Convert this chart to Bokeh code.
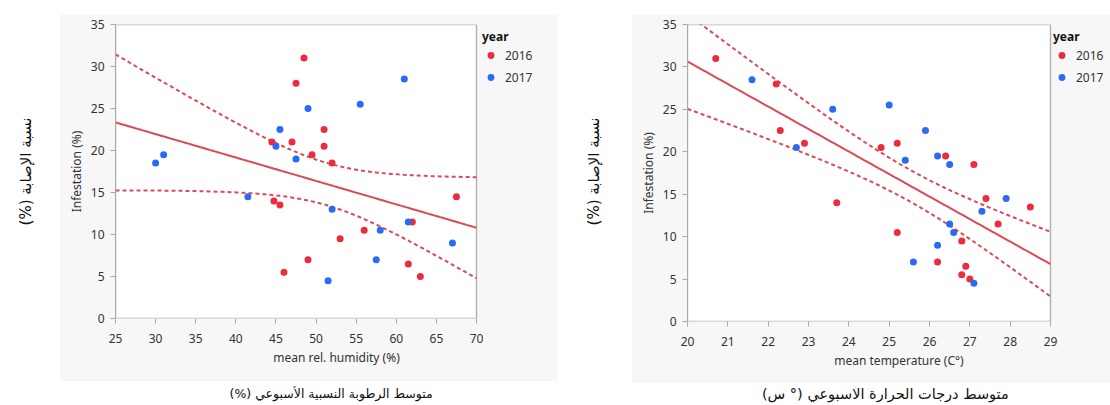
import numpy as np
from bokeh.plotting import figure
from bokeh.layouts import row, column
from bokeh.models import Spacer, Legend, LegendItem, FixedTicker, Title
from bokeh.core.properties import value
from bokeh.embed import file_html
from bokeh.resources import INLINE

# ---------------- data ----------------
inf16 = [31, 28, 22.5, 21, 21, 20.5, 19.5, 18.5, 14.5, 14, 13.5, 11.5, 10.5, 9.5, 7, 6.5, 5.5, 5]
hum16 = [48.5, 47.5, 51, 44.5, 47, 51, 49.5, 52, 67.5, 44.75, 45.5, 62, 56, 53, 49, 61.5, 46, 63]
temp16 = [20.7, 22.2, 22.3, 22.9, 25.2, 24.8, 26.4, 27.1, 27.4, 23.7, 28.5, 27.7, 25.2, 26.8, 26.2, 26.9, 26.8, 27.0]

inf17 = [28.5, 25.5, 25, 22.5, 20.5, 19.5, 19, 18.5, 14.5, 13, 11.5, 10.5, 9, 7, 4.5]
hum17 = [61, 55.5, 49, 45.5, 45, 31, 47.5, 30, 41.5, 52, 61.5, 58, 67, 57.5, 51.5]
temp17 = [21.6, 25.0, 23.6, 25.9, 22.7, 26.2, 25.4, 26.5, 27.9, 27.3, 26.5, 26.6, 26.2, 25.6, 27.1]

years = ["2016", "2017"]
hum_ticks = [25, 30, 35, 40, 45, 50, 55, 60, 65, 70]
temp_ticks = [20, 21, 22, 23, 24, 25, 26, 27, 28, 29]
inf_ticks = [0, 5, 10, 15, 20, 25, 30, 35]

RLM = "\u200f"
ar_ylabel = "نسبة الإصابة (%)" + RLM
ar_xlabel_hum = "متوسط الرطوبة النسبية الأسبوعي (%)" + RLM
ar_xlabel_temp = "متوسط درجات الحرارة الاسبوعي (° س)" + RLM

RED = "#ee2b3b"
BLUE = "#2b6af5"
FIT = "#d8404e"
PANEL = "#f7f7f7"
BOX = "#b4b4b4"
FONT = "Noto Sans"
AR_FONT = "DejaVu Sans"
T_CRIT = 2.0395  # t(0.975, 31)


def fit_band(x, y, xr):
    x = np.asarray(x, float)
    y = np.asarray(y, float)
    n = len(x)
    b, a = np.polyfit(x, y, 1)
    res = y - (a + b * x)
    s = np.sqrt(np.sum(res ** 2) / (n - 2))
    sxx = np.sum((x - x.mean()) ** 2)
    xs = np.linspace(xr[0], xr[1], 120)
    yh = a + b * xs
    hw = T_CRIT * s * np.sqrt(1.0 / n + (xs - x.mean()) ** 2 / sxx)
    return xs, yh, yh - hw, yh + hw


def panel(xs16, xs17, xticks, xlabel, w, h, bl, bt, bb, data_w, leg_x, leg_y):
    # frame spans to the right edge of the panel; the data box is data_w px wide
    x0, x1 = xticks[0], xticks[-1]
    fw = w - bl
    x_end = x0 + (x1 - x0) * fw / data_w
    p = figure(width=w, height=h, x_range=(x0, x_end), y_range=(0, 35),
               toolbar_location=None, output_backend="svg",
               min_border_left=bl, min_border_right=0,
               min_border_top=bt, min_border_bottom=bb)
    p.background_fill_color = PANEL
    p.border_fill_color = PANEL
    p.outline_line_color = None
    p.grid.visible = False
    p.quad(left=[x0], right=[x1], bottom=[inf_ticks[0]], top=[inf_ticks[-1]],
           fill_color="white", line_color=BOX, line_width=1.5)
    p.xaxis.ticker = FixedTicker(ticks=xticks)
    p.yaxis.ticker = FixedTicker(ticks=inf_ticks)
    p.yaxis.axis_label = "Infestation (%)"
    for ax in (p.xaxis[0], p.yaxis[0]):
        ax.axis_line_color = "#a8a8a8"
        ax.major_tick_line_color = "#a8a8a8"
        ax.major_tick_out = 5
        ax.major_tick_in = 0
        ax.minor_tick_line_color = None
        ax.major_label_text_font = FONT
        ax.major_label_text_font_size = "12px"
        ax.major_label_text_color = "#333333"
        ax.axis_label_text_font = FONT
        ax.axis_label_text_font_size = "12px"
        ax.axis_label_text_font_style = "normal"
        ax.axis_label_text_color = "#333333"
    p.xaxis.axis_line_color = None
    p.xaxis.major_label_standoff = 10
    p.yaxis.major_label_standoff = 6
    p.yaxis.axis_label_standoff = 3

    t = Title(text=xlabel, align="center", offset=(data_w - fw) / 2.0,
              text_font=FONT, text_font_size="12px", text_font_style="normal",
              text_color="#333333", standoff=2)
    p.add_layout(t, "below")

    allx = list(xs16) + list(xs17)
    ally = inf16 + inf17
    fx, fy, lo, hi = fit_band(allx, ally, (x0, x1))
    p.line(fx, fy, line_color=FIT, line_width=2, line_alpha=0.95)
    p.line(fx, lo, line_color=FIT, line_width=2, line_dash="4 3", line_alpha=0.95)
    p.line(fx, hi, line_color=FIT, line_width=2, line_dash="4 3", line_alpha=0.95)

    r16 = p.scatter(xs16, inf16, size=7, color=RED, line_color=None)
    r17 = p.scatter(xs17, inf17, size=7, color=BLUE, line_color=None)
    leg = Legend(items=[LegendItem(label=years[0], renderers=[r16]),
                        LegendItem(label=years[1], renderers=[r17])],
                 location=(data_w + leg_x, leg_y), title="year")
    leg.title_text_font = FONT
    leg.title_text_font_style = "bold"
    leg.title_text_font_size = "12px"
    leg.title_text_color = "#111111"
    leg.title_standoff = 1
    leg.label_text_font = FONT
    leg.label_text_font_size = "12px"
    leg.label_text_color = "#333333"
    leg.glyph_width = 17
    leg.glyph_height = 18
    leg.label_standoff = 6
    leg.spacing = 4
    leg.padding = 2
    leg.margin = 0
    leg.border_line_color = None
    leg.background_fill_alpha = 0
    p.add_layout(leg)
    return p


def text_fig(w, h, x, y, txt, angle=0.0, size="15px"):
    f = figure(width=w, height=h, x_range=(0, w), y_range=(0, h),
               toolbar_location=None, output_backend="svg",
               x_axis_location=None, y_axis_location=None,
               min_border=0, min_border_left=0, min_border_right=0,
               min_border_top=0, min_border_bottom=0)
    f.grid.visible = False
    f.outline_line_color = None
    f.border_fill_color = "white"
    f.background_fill_color = "white"
    f.text(x=[x], y=[y], text=[txt], angle=angle, text_align="center",
           text_baseline="middle", text_font=value(AR_FONT),
           text_font_size=size, text_color="#111111")
    return f


left = panel(hum16, hum17, hum_ticks, "mean rel. humidity (%)",
             498, 367, 56, 10, 63, 361, 6, 232)
right = panel(temp16, temp17, temp_ticks, "mean temperature (C°)",
              479, 369, 56, 10, 62, 363, 3, 235)

ylab_l = text_fig(59, 404, 25, 233, ar_ylabel, angle=np.pi / 2, size="15px")
ylab_r = text_fig(74, 404, 36, 233, ar_ylabel, angle=np.pi / 2, size="15px")
xlab_l = text_fig(498, 23, 243, 11, ar_xlabel_hum, size="12.5px")
xlab_r = text_fig(479, 21, 224, 11, ar_xlabel_temp, size="14.5px")

col_l = column(Spacer(width=498, height=14), left, xlab_l, spacing=0)
col_r = column(Spacer(width=479, height=14), right, xlab_r, spacing=0)
layout = row(ylab_l, col_l, ylab_r, col_r, spacing=0)

open("out.html", "w").write(file_html(layout, INLINE))
